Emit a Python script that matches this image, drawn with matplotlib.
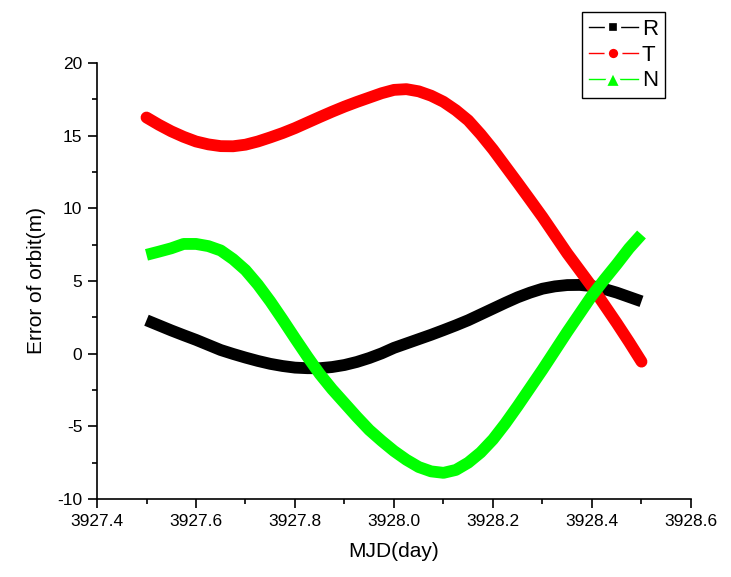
import numpy as np
import matplotlib
matplotlib.use("Agg")
import matplotlib.pyplot as plt
from matplotlib.lines import Line2D
from matplotlib.markers import MarkerStyle

plt.rcParams['font.family'] = ['Liberation Sans', 'DejaVu Sans']
plt.rcParams['axes.unicode_minus'] = False

## data (MJD day, error in m), every 0.025 day
mjd = [3927.500, 3927.525, 3927.550, 3927.575, 3927.600, 3927.625, 3927.650,
       3927.675, 3927.700, 3927.725, 3927.750, 3927.775, 3927.800, 3927.825,
       3927.850, 3927.875, 3927.900, 3927.925, 3927.950, 3927.975, 3928.000,
       3928.025, 3928.050, 3928.075, 3928.100, 3928.125, 3928.150, 3928.175,
       3928.200, 3928.225, 3928.250, 3928.275, 3928.300, 3928.325, 3928.350,
       3928.375, 3928.400, 3928.425, 3928.450, 3928.475, 3928.500]
err_R = [2.3, 1.95, 1.6, 1.27, 0.95, 0.6, 0.25, -0.02, -0.27, -0.5, -0.7,
         -0.85, -0.96, -1.0, -1.0, -0.92, -0.78, -0.57, -0.3, 0.02, 0.4,
         0.7, 1.0, 1.3, 1.62, 1.95, 2.3, 2.7, 3.1, 3.5, 3.88, 4.2, 4.47,
         4.63, 4.72, 4.73, 4.65, 4.45, 4.2, 3.9, 3.6]
err_T = [16.25, 15.75, 15.3, 14.92, 14.6, 14.4, 14.28, 14.27, 14.38, 14.6,
         14.88, 15.18, 15.52, 15.9, 16.28, 16.65, 17.0, 17.32, 17.62, 17.92,
         18.15, 18.2, 18.05, 17.75, 17.33, 16.75, 16.05, 15.1, 14.05, 12.9,
         11.75, 10.58, 9.4, 8.15, 6.9, 5.75, 4.6, 3.35, 2.1, 0.8, -0.55]
err_N = [6.8, 7.02, 7.25, 7.55, 7.55, 7.4, 7.1, 6.5, 5.75, 4.75, 3.6, 2.35,
         1.06, -0.2, -1.4, -2.45, -3.4, -4.35, -5.25, -6.0, -6.7, -7.3,
         -7.8, -8.1, -8.2, -8.0, -7.5, -6.8, -5.9, -4.8, -3.6, -2.35, -1.1,
         0.2, 1.5, 2.75, 4.0, 5.1, 6.15, 7.25, 8.2]

## name, values, colour, legend marker, marker size, line end style
series = [("R", err_R, "black", "s", 9.2, "butt"),
          ("T", err_T, "red", "o", 9.8, "round"),
          ("N", err_N, "#00ff00", "^", 13, "butt")]

fig = plt.figure(figsize=(7.31, 5.77), dpi=100)
ax = fig.add_axes([97/731, 78/577, 594/731, 436/577])

handles = []
for name, vals, col, mk, ms, cap in series:
    ax.plot(mjd, vals, '-', color=col, linewidth=8.5, solid_capstyle=cap,
            solid_joinstyle='round')
    ## white marker edge gives the gap around the legend symbol
    handles.append(Line2D([], [], color=col, lw=1,
                          marker=MarkerStyle(mk, joinstyle='round'),
                          markersize=ms, markerfacecolor=col,
                          markeredgecolor='white', markeredgewidth=3.1,
                          label=name))

ax.set_xlim(3927.4, 3928.6)
ax.set_ylim(-10, 20)
xt = np.arange(3927.4, 3928.61, 0.2)
ax.set_xticks(xt)
ax.set_xticklabels(["%.1f" % v for v in xt])
ax.set_xticks(np.arange(3927.5, 3928.6, 0.2), minor=True)
ax.set_yticks(np.arange(-10, 21, 5))
ax.set_yticks(np.arange(-7.5, 20, 5), minor=True)

for s in ['top', 'right']:
    ax.spines[s].set_visible(False)
for s in ['left', 'bottom']:
    ax.spines[s].set_linewidth(1.2)
ax.tick_params(which='major', direction='out', length=6.5, width=1.2,
               labelsize=12.5, pad=4)
ax.tick_params(which='minor', direction='out', length=3.8, width=1.2)

ax.set_xlabel("MJD(day)", fontsize=15, labelpad=10)
ax.set_ylabel("Error of orbit(m)", fontsize=15, labelpad=8)

leg = fig.legend(handles=handles, loc='upper left',
                 bbox_to_anchor=(582/731, 1 - 12/577),
                 bbox_transform=fig.transFigure, borderaxespad=0,
                 fontsize=16, fancybox=False, framealpha=1,
                 edgecolor='black', handlelength=2.2, handletextpad=0.2,
                 labelspacing=0.22, borderpad=0.3)
leg.get_frame().set_linewidth(1.0)

fig.savefig("out.png", dpi=100)
